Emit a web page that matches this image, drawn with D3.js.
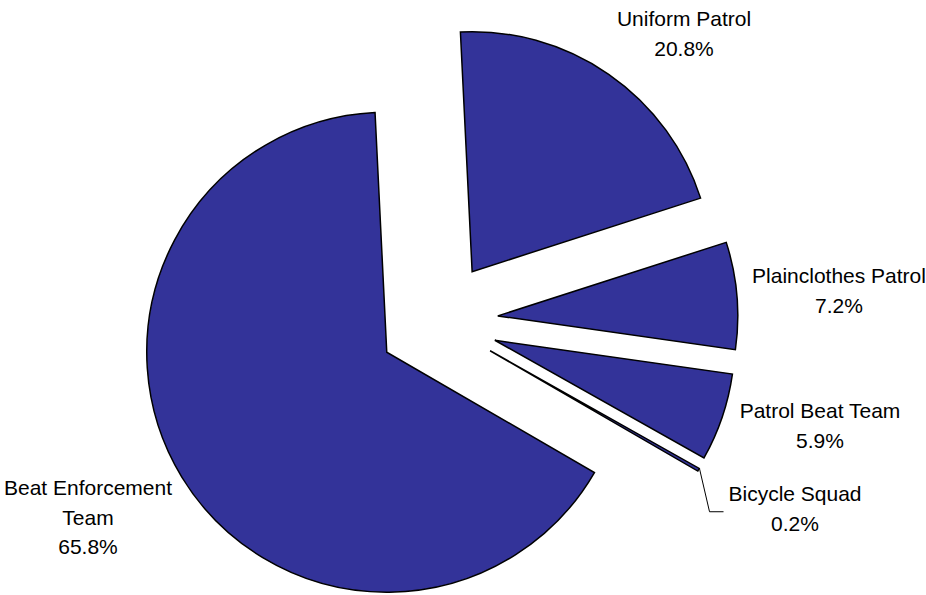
<!DOCTYPE html>
<html>
<head>
<meta charset="utf-8">
<script src="https://cdn.jsdelivr.net/npm/d3@7"></script>
<style>
  body { margin: 0; background: #fff; }
  text { font-family: "Liberation Sans", Arial, sans-serif; font-size: 21px; fill: #000; }
</style>
</head>
<body>
<script>
// ----- data -----
let categories = ["Uniform Patrol", "Plainclothes Patrol", "Patrol Beat Team", "Bicycle Squad", "Beat Enforcement Team"]
let shares = [20.8, 7.2, 5.9, 0.2, 65.8]
let labelLines = [
  ["Uniform Patrol", "20.8%"],
  ["Plainclothes Patrol", "7.2%"],
  ["Patrol Beat Team", "5.9%"],
  ["Bicycle Squad", "0.2%"],
  ["Beat Enforcement", "Team", "65.8%"]
]

// ----- layout -----
let w = 926
let h = 595
let cx = 438, cy = 321
let r = 240
let explode = 60
let start = -2.8 * Math.PI / 180
let lineH = 29.5
// label anchor (center x, first baseline y)
let labelAt = [[684, 26], [839, 283], [820, 418], [795, 501], [88, 495]]

let svg = d3.select("body")
  .append("svg")
  .attr("width", w)
  .attr("height", h)

let pie = d3.pie()
  .sort(null)
  .value(d => d)
  .startAngle(start)
  .endAngle(start + 2 * Math.PI)

let arc = d3.arc().innerRadius(0).outerRadius(r)

let arcs = pie(shares)

let g = svg.append("g").attr("transform", `translate(${cx},${cy})`)

// slices, each pushed out along its bisector
g.selectAll("path")
  .data(arcs)
  .enter()
  .append("path")
    .attr("d", arc)
    .attr("transform", d => {
      let m = (d.startAngle + d.endAngle) / 2
      return `translate(${explode * Math.sin(m)},${-explode * Math.cos(m)})`
    })
    .attr("fill", "#333399")
    .attr("stroke", "#000")
    .attr("stroke-width", 1.5)
    .attr("stroke-linejoin", "miter")

// leader line for the tiny slice
let b = arcs[3]
let bm = (b.startAngle + b.endAngle) / 2
let bx = cx + (explode + r) * Math.sin(bm) + 1
let by = cy - (explode + r) * Math.cos(bm) - 1
svg.append("polyline")
  .attr("points", `${bx},${by} ${bx + 10},${by + 43} ${bx + 24},${by + 43}`)
  .attr("fill", "none")
  .attr("stroke", "#000")
  .attr("stroke-width", 1)

// labels
svg.selectAll("text.lbl")
  .data(labelLines)
  .enter()
  .append("text")
    .attr("class", "lbl")
    .attr("text-anchor", "middle")
    .attr("x", (d, i) => labelAt[i][0])
    .attr("y", (d, i) => labelAt[i][1])
    .selectAll("tspan")
    .data((d, i) => d.map(t => ({ t, i })))
    .enter()
    .append("tspan")
      .attr("x", d => labelAt[d.i][0])
      .attr("dy", (d, j) => j === 0 ? 0 : lineH)
      .text(d => d.t)
</script>
</body>
</html>
